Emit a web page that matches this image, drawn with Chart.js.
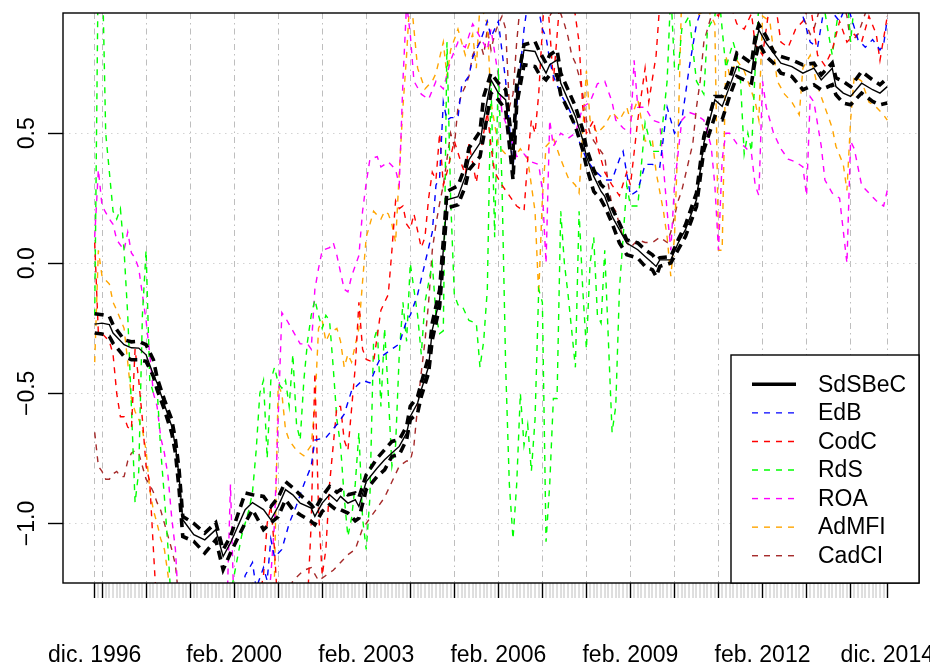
<!DOCTYPE html>
<html>
<head>
<meta charset="utf-8">
<script src="https://cdn.jsdelivr.net/npm/chart.js@4.4.0/dist/chart.umd.min.js"></script>
<style>
  html, body { margin: 0; padding: 0; background: #fff; }
  canvas { display: block; }
</style>
</head>
<body>
<canvas id="chart" width="930" height="666"></canvas>
<script>
'use strict';

const FONT = '"Liberation Sans", Arial, Helvetica, sans-serif';

// x is a month index: 0 = dic. 1996, 216 = dic. 2014
const xTickMonths = [0, 38, 74, 110, 146, 182, 216];
const xTickLabels = ['dic. 1996', 'feb. 2000', 'feb. 2003', 'feb. 2006', 'feb. 2009', 'feb. 2012', 'dic. 2014'];
const yTickValues = [-1, -0.5, 0, 0.5];
const yTickLabels = ['\u22121.0', '\u22120.5', '0.0', '0.5'];

// SdSBeC with its upper and lower bands
const sdsbecMonths = [0, 2, 4, 5, 8, 10, 12, 14, 16, 17, 19, 21, 22, 23, 24, 27, 30, 33, 35, 37, 41, 43, 46, 48, 50, 52, 54, 56, 59, 60, 62, 64, 66, 67, 69, 71, 72, 74, 77, 79, 81, 83, 85, 86, 88, 89, 91, 92, 94, 96, 99, 101, 102, 105, 106, 108, 110, 112, 114, 115, 117, 120, 121, 123, 124, 126, 127, 129, 131, 133, 134, 136, 138, 139, 141, 143, 145, 148, 150, 152, 153, 154, 157, 159, 161, 164, 166, 169, 171, 173, 175, 177, 179, 180, 181, 183, 185, 187, 190, 193, 196, 198, 201, 202, 204, 206, 209, 212, 214, 216];
const sdsbecMid = [-0.234, -0.23, -0.236, -0.268, -0.313, -0.325, -0.326, -0.352, -0.429, -0.46, -0.544, -0.627, -0.704, -0.819, -0.986, -1.043, -1.063, -1.024, -1.127, -1.075, -0.947, -0.92, -0.947, -0.986, -0.935, -0.87, -0.89, -0.922, -0.941, -0.973, -0.922, -0.89, -0.915, -0.896, -0.922, -0.909, -0.935, -0.839, -0.787, -0.755, -0.729, -0.704, -0.653, -0.589, -0.537, -0.486, -0.397, -0.256, -0.14, 0.244, 0.256, 0.334, 0.398, 0.462, 0.552, 0.705, 0.654, 0.628, 0.359, 0.654, 0.82, 0.814, 0.782, 0.731, 0.763, 0.782, 0.693, 0.628, 0.564, 0.475, 0.41, 0.334, 0.276, 0.257, 0.18, 0.129, 0.078, 0.052, 0.026, 0.001, -0.012, 0.013, 0.013, 0.078, 0.129, 0.244, 0.462, 0.628, 0.603, 0.679, 0.756, 0.744, 0.731, 0.833, 0.897, 0.846, 0.808, 0.769, 0.756, 0.731, 0.75, 0.705, 0.75, 0.679, 0.654, 0.641, 0.692, 0.667, 0.654, 0.679];
const sdsbecUpper = [-0.194, -0.198, -0.204, -0.236, -0.294, -0.302, -0.3, -0.313, -0.371, -0.44, -0.525, -0.601, -0.678, -0.794, -0.973, -1.0, -1.037, -0.997, -1.101, -1.05, -0.883, -0.89, -0.896, -0.935, -0.9, -0.839, -0.863, -0.89, -0.928, -0.947, -0.896, -0.858, -0.88, -0.87, -0.89, -0.883, -0.9, -0.813, -0.749, -0.717, -0.685, -0.678, -0.627, -0.55, -0.512, -0.46, -0.358, -0.229, -0.102, 0.276, 0.298, 0.372, 0.443, 0.507, 0.641, 0.731, 0.693, 0.667, 0.436, 0.686, 0.84, 0.852, 0.82, 0.769, 0.801, 0.82, 0.731, 0.667, 0.603, 0.513, 0.443, 0.359, 0.302, 0.289, 0.212, 0.154, 0.09, 0.078, 0.052, 0.033, 0.013, 0.021, 0.026, 0.09, 0.148, 0.27, 0.487, 0.641, 0.641, 0.705, 0.808, 0.789, 0.769, 0.872, 0.917, 0.872, 0.814, 0.795, 0.782, 0.763, 0.769, 0.724, 0.77, 0.713, 0.699, 0.679, 0.737, 0.705, 0.686, 0.712];
const sdsbecLower = [-0.268, -0.272, -0.281, -0.307, -0.358, -0.371, -0.371, -0.377, -0.435, -0.486, -0.563, -0.653, -0.729, -0.87, -1.05, -1.069, -1.114, -1.063, -1.178, -1.114, -0.998, -0.947, -1.024, -0.998, -0.974, -0.909, -0.947, -0.967, -0.992, -1.005, -0.954, -0.928, -0.95, -0.947, -0.96, -0.99, -0.98, -0.87, -0.819, -0.794, -0.742, -0.736, -0.678, -0.601, -0.576, -0.512, -0.421, -0.294, -0.166, 0.212, 0.225, 0.295, 0.359, 0.41, 0.487, 0.654, 0.628, 0.59, 0.321, 0.609, 0.763, 0.756, 0.731, 0.705, 0.724, 0.724, 0.648, 0.59, 0.526, 0.436, 0.372, 0.276, 0.244, 0.218, 0.154, 0.078, 0.033, 0.02, -0.012, -0.025, -0.051, -0.012, 0.001, 0.052, 0.103, 0.218, 0.436, 0.564, 0.552, 0.641, 0.718, 0.705, 0.693, 0.782, 0.846, 0.795, 0.769, 0.731, 0.718, 0.667, 0.686, 0.667, 0.686, 0.648, 0.616, 0.609, 0.654, 0.622, 0.609, 0.616];

const edbMonths = [0, 38, 41, 43, 44, 46, 47, 48, 49, 51, 53, 55, 57, 59, 60, 63, 66, 68, 70, 73, 75, 77, 78, 81, 83, 85, 86, 88, 90, 92, 93, 94, 95, 96, 97, 99, 100, 102, 103, 105, 107, 108, 110, 112, 114, 115, 117, 118, 120, 122, 123, 124, 125, 127, 129, 130, 132, 134, 136, 139, 141, 143, 144, 146, 148, 150, 152, 154, 156, 158, 160, 162, 164, 166, 168, 175, 185, 192, 195, 197, 199, 203, 205, 208, 210, 212, 214, 215, 216];
const edbValues = [-1.5, -1.45, -1.2, -1.15, -1.25, -1.17, -1.22, -1.06, -1.13, -1.1, -1.0, -0.93, -0.85, -0.78, -0.68, -0.67, -0.62, -0.58, -0.49, -0.45, -0.46, -0.39, -0.36, -0.33, -0.31, -0.22, -0.2, -0.12, 0.0, 0.12, 0.3, 0.33, 0.62, 0.55, 0.56, 0.56, 0.68, 0.72, 0.79, 0.85, 0.93, 0.87, 0.93, 0.7, 0.36, 0.6, 0.9, 1.0, 1.05, 0.9, 0.87, 0.78, 0.72, 0.65, 0.6, 0.57, 0.47, 0.4, 0.36, 0.32, 0.32, 0.4, 0.43, 0.26, 0.28, 0.38, 0.38, 0.37, 0.6, 0.5, 0.55, 0.75, 0.92, 1.0, 1.05, 1.1, 1.05, 1.0, 0.85, 0.83, 1.0, 0.93, 1.0, 0.86, 0.83, 0.86, 0.82, 0.84, 0.94];

const codcMonths = [0, 1, 2, 4, 5, 6, 7, 8, 9, 10, 11, 12, 13, 14, 15, 16, 17, 40, 43, 44, 46, 47, 48, 49, 50, 58, 59, 60, 61, 62, 63, 64, 66, 67, 68, 69, 70, 71, 72, 73, 74, 76, 78, 80, 81, 82, 83, 84, 85, 86, 87, 89, 90, 91, 92, 93, 94, 95, 96, 98, 100, 101, 102, 104, 106, 107, 108, 109, 111, 113, 115, 117, 118, 119, 120, 121, 122, 123, 124, 125, 127, 128, 130, 132, 133, 134, 136, 137, 139, 141, 143, 145, 146, 148, 150, 151, 153, 154, 156, 160, 165, 170, 172, 175, 177, 179, 180, 182, 184, 186, 187, 189, 191, 193, 195, 197, 199, 201, 203, 205, 207, 209, 211, 213, 214, 216];
const codcValues = [0.08, -0.27, -0.27, -0.3, -0.35, -0.5, -0.59, -0.59, -0.63, -0.64, -0.33, -0.45, -0.6, -0.78, -0.84, -1.1, -1.35, -1.4, -1.22, -1.35, -1.2, -1.0, -0.93, -1.1, -1.35, -1.3, -1.0, -0.42, -0.95, -1.2, -1.1, -0.85, -0.55, -0.55, -0.68, -0.72, -0.56, -0.4, -0.15, -0.33, -0.37, -0.38, -0.18, -0.12, 0.05, 0.24, 0.21, 0.22, 0.15, 0.13, 0.19, 0.06, 0.1, 0.25, 0.35, 0.32, 0.5, 0.3, 0.35, 0.47, 0.38, 0.34, 0.46, 0.31, 0.5, 0.58, 0.45, 0.35, 0.3, 0.26, 0.22, 0.2, 0.4, 0.55, 0.5, 0.65, 0.9, 1.1, 0.9, 0.7, 1.05, 1.1, 1.05, 0.85, 0.6, 0.5, 0.55, 0.45, 0.35, 0.3, 0.26, 0.35, 0.3, 0.55, 0.75, 0.62, 0.8, 1.0, 1.1, 1.05, 1.02, 0.95, 1.05, 0.92, 0.9, 0.96, 0.84, 0.8, 1.0, 0.95, 0.85, 0.83, 0.9, 0.93, 1.0, 0.8, 0.76, 0.82, 0.93, 0.85, 0.88, 0.85, 0.95, 0.88, 0.78, 0.95];

const rdsMonths = [0, 1, 2, 3, 4, 5, 6, 7, 8, 9, 10, 11, 12, 13, 14, 15, 16, 17, 18, 19, 20, 21, 36, 38, 40, 42, 43, 44, 45, 46, 47, 48, 49, 50, 51, 52, 53, 54, 55, 56, 57, 58, 59, 60, 61, 62, 63, 64, 65, 66, 67, 68, 69, 70, 71, 72, 73, 74, 75, 76, 77, 78, 79, 80, 81, 82, 83, 84, 85, 86, 87, 88, 89, 90, 92, 93, 94, 95, 96, 97, 98, 99, 100, 102, 104, 105, 106, 107, 108, 109, 110, 111, 112, 113, 114, 115, 116, 117, 118, 119, 120, 121, 122, 123, 124, 125, 126, 127, 128, 129, 130, 131, 132, 133, 134, 135, 136, 137, 138, 139, 140, 141, 142, 143, 144, 145, 146, 148, 150, 152, 154, 156, 157, 158, 159, 160, 162, 164, 166, 167, 169, 170, 172, 174, 175, 176, 177, 178, 179, 180, 181, 183, 198, 200, 201, 203, 205, 206, 207, 216];
const rdsValues = [-0.2, 1.2, 1.2, 0.5, 0.35, 0.2, 0.17, 0.21, 0.05, -0.2, -0.55, -0.92, -0.8, -0.2, 0.05, -0.45, -0.5, -0.48, -0.72, -0.9, -1.1, -1.35, -1.35, -1.2, -1.05, -0.95, -0.88, -0.72, -0.5, -0.45, -0.75, -0.45, -0.4, -0.46, -0.48, -0.45, -0.55, -0.35, -0.62, -0.68, -0.45, -0.3, -0.2, -0.14, -0.2, -0.25, -0.2, -0.22, -0.4, -0.6, -0.7, -0.9, -1.05, -0.98, -0.85, -0.65, -0.98, -1.1, -0.9, -0.3, -0.25, -0.55, -0.25, -0.5, -0.78, -0.7, -0.35, -0.15, -0.3, 0.0, -0.1, -0.2, -0.35, -0.15, 0.0, -0.2, -0.27, -0.26, 0.85, 0.25, -0.12, -0.16, -0.16, -0.22, -0.23, -0.4, -0.3, -0.1, 0.7, 0.1, 0.75, 0.3, -0.4, -0.85, -1.06, -0.85, -0.5, -0.7, -0.62, -0.8, -0.6, -0.1, -0.15, -1.07, -0.85, -0.52, -0.52, 0.2, 0.0, -0.12, -0.26, -0.4, 0.2, -0.1, -0.33, 0.0, 0.1, -0.2, -0.23, 0.05, -0.3, -0.65, -0.55, -0.1, 0.1, 0.3, 0.22, 0.22, 0.54, 0.43, 0.43, 0.7, 1.05, 0.75, 0.74, 0.9, 0.95, 0.7, 0.65, 0.9, 0.95, 1.05, 0.75, 0.85, 0.8, 0.7, 0.42, 0.5, 0.43, 0.75, 1.0, 1.1, 1.05, 0.88, 0.8, 1.0, 1.05, 0.85, 1.0, 1.05];

const roaMonths = [0, 1, 2, 4, 5, 6, 8, 9, 10, 11, 12, 13, 14, 15, 16, 17, 18, 19, 20, 21, 22, 23, 36, 37, 38, 47, 48, 49, 51, 52, 54, 56, 58, 59, 60, 61, 62, 64, 65, 66, 68, 69, 70, 72, 73, 74, 75, 77, 78, 80, 82, 83, 84, 85, 86, 87, 89, 91, 93, 95, 97, 99, 101, 103, 105, 107, 108, 110, 111, 113, 115, 117, 119, 121, 122, 123, 124, 125, 127, 129, 131, 133, 135, 137, 139, 141, 142, 144, 146, 147, 148, 150, 152, 154, 156, 157, 158, 160, 162, 164, 166, 168, 169, 170, 171, 172, 173, 175, 177, 179, 180, 181, 182, 183, 185, 187, 189, 191, 193, 194, 195, 196, 198, 199, 201, 203, 205, 206, 207, 209, 211, 213, 215, 216];
const roaValues = [0.1, 0.36, 0.22, 0.17, 0.15, 0.09, 0.05, 0.12, 0.04, 0.02, -0.02, -0.12, -0.22, -0.35, -0.5, -0.55, -0.67, -0.73, -0.82, -0.98, -1.1, -1.35, -1.35, -0.85, -1.35, -1.35, -1.2, -1.0, -0.19, -0.21, -0.26, -0.31, -0.31, -0.33, -0.1, -0.02, 0.05, 0.06, 0.08, 0.03, -0.1, -0.11, -0.05, 0.03, 0.2, 0.31, 0.4, 0.41, 0.37, 0.39, 0.36, 0.3, 0.7, 1.0, 0.88, 0.7, 0.65, 0.63, 0.7, 0.67, 0.78, 0.85, 0.83, 0.92, 0.87, 0.82, 0.9, 0.72, 0.58, 0.5, 0.41, 0.42, 0.39, 0.38, 0.28, 0.0, 0.55, 0.45, 0.5, 0.48, 0.5, 0.6, 0.62, 0.69, 0.7, 0.62, 0.55, 0.52, 0.5, 0.78, 0.6, 0.6, 0.55, 0.54, 0.2, 0.05, 0.3, 0.55, 0.58, 0.57, 0.55, 0.45, 0.3, 0.05, 0.4, 0.5, 0.5, 0.46, 0.45, 0.42, 0.3, 0.26, 0.7, 0.6, 0.5, 0.44, 0.4, 0.39, 0.37, 0.26, 0.64, 0.62, 0.45, 0.32, 0.27, 0.25, 0.0, 0.47, 0.44, 0.3, 0.27, 0.24, 0.22, 0.28];

const admfiMonths = [0, 1, 2, 4, 5, 6, 8, 9, 10, 11, 12, 13, 14, 15, 16, 17, 18, 19, 20, 21, 48, 49, 50, 51, 52, 53, 55, 57, 59, 60, 61, 62, 63, 64, 66, 67, 68, 69, 70, 72, 73, 74, 76, 78, 79, 80, 81, 82, 83, 84, 85, 86, 87, 88, 90, 92, 93, 95, 96, 97, 99, 101, 103, 104, 105, 107, 108, 110, 112, 114, 116, 118, 120, 121, 122, 123, 125, 127, 129, 131, 132, 134, 135, 137, 139, 141, 143, 145, 146, 148, 150, 152, 153, 155, 156, 157, 158, 159, 160, 162, 164, 167, 169, 170, 171, 172, 173, 175, 177, 179, 180, 181, 182, 184, 186, 188, 190, 192, 193, 195, 197, 199, 201, 202, 204, 205, 206, 207, 209, 211, 213, 215, 216];
const admfiValues = [-0.38, 0.05, -0.05, -0.08, -0.15, -0.18, -0.25, -0.38, -0.52, -0.57, -0.6, -0.64, -0.72, -0.87, -0.95, -1.0, -1.06, -1.1, -1.2, -1.35, -1.35, -1.2, -0.47, -0.5, -0.64, -0.68, -0.72, -0.74, -0.7, -0.55, -0.25, -0.22, -0.3, -0.27, -0.25, -0.3, -0.4, -0.35, -0.38, -0.25, -0.07, 0.1, 0.2, 0.17, 0.2, 0.19, 0.15, 0.08, 0.35, 0.6, 0.8, 1.05, 0.9, 0.75, 0.67, 0.7, 0.73, 0.85, 0.72, 0.82, 0.9, 0.8, 0.88, 0.75, 1.0, 0.92, 0.62, 0.45, 0.42, 0.4, 0.44, 0.4, 0.2, -0.12, 0.25, 0.45, 0.48, 0.4, 0.33, 0.3, 0.27, 0.74, 0.55, 0.5, 0.53, 0.58, 0.55, 0.6, 0.55, 0.63, 0.47, 0.47, 0.35, 0.2, 0.1, -0.05, 0.1, 0.5, 1.05, 1.1, 0.95, 0.98, 0.92, 0.05, 0.05, 0.8, 0.72, 0.78, 0.74, 0.66, 0.62, 0.55, 0.95, 0.93, 0.7, 0.65, 0.62, 0.57, 0.75, 0.8, 0.68, 0.6, 0.52, 0.45, 0.38, 0.28, 0.55, 0.72, 0.7, 0.62, 0.6, 0.57, 0.55];

const cadciMonths = [0, 1, 2, 3, 4, 5, 6, 7, 8, 9, 10, 11, 12, 13, 14, 15, 16, 17, 18, 19, 20, 21, 22, 23, 52, 54, 57, 59, 61, 63, 65, 67, 69, 71, 73, 75, 77, 79, 81, 83, 85, 86, 87, 88, 89, 90, 91, 92, 93, 94, 95, 96, 97, 98, 99, 100, 101, 102, 103, 104, 105, 106, 107, 108, 109, 110, 111, 112, 113, 114, 115, 116, 118, 120, 122, 124, 126, 128, 129, 130, 131, 132, 133, 134, 135, 136, 137, 139, 140, 141, 142, 143, 144, 145, 146, 148, 150, 152, 154, 156, 157, 158, 159, 160, 161, 162, 163, 164, 165, 166, 167, 169, 170, 180, 190, 193, 195, 196, 198, 203, 205, 206, 208, 209, 211, 214, 216];
const cadciValues = [-0.65, -0.78, -0.8, -0.83, -0.83, -0.81, -0.8, -0.82, -0.82, -0.76, -0.73, -0.72, -0.73, -0.78, -0.83, -0.85, -0.88, -0.92, -0.95, -1.0, -1.05, -1.1, -1.16, -1.3, -1.3, -1.22, -1.18, -1.17, -1.22, -1.2, -1.18, -1.15, -1.12, -1.1, -1.02, -0.98, -0.94, -0.9, -0.84, -0.78, -0.76, -0.76, -0.7, -0.55, -0.42, -0.3, -0.15, 0.05, 0.15, 0.23, 0.3, 0.4, 0.5, 0.45, 0.6, 0.65, 0.68, 0.72, 0.8, 0.83, 0.85, 0.8, 0.9, 0.82, 0.88, 0.92, 0.95, 0.9, 0.6, 0.65, 0.85, 1.0, 1.05, 1.02, 1.0, 0.95, 1.0, 0.92, 0.87, 0.8, 0.77, 0.72, 0.65, 0.55, 0.5, 0.47, 0.45, 0.41, 0.3, 0.22, 0.2, 0.15, 0.1, 0.08, 0.06, 0.09, 0.08, 0.08, 0.1, 0.08, 0.12, 0.18, 0.24, 0.28, 0.34, 0.4, 0.46, 0.6, 0.7, 0.85, 0.9, 1.0, 1.05, 1.1, 1.05, 0.95, 0.88, 0.9, 1.0, 1.05, 0.95, 0.85, 0.88, 0.92, 1.0, 0.97, 0.95];

const series = [
  { label: 'EdB', color: '#0000FF', months: edbMonths, values: edbValues },
  { label: 'CodC', color: '#FF0000', months: codcMonths, values: codcValues },
  { label: 'RdS', color: '#00FF00', months: rdsMonths, values: rdsValues },
  { label: 'ROA', color: '#FF00FF', months: roaMonths, values: roaValues },
  { label: 'AdMFI', color: '#FFA500', months: admfiMonths, values: admfiValues },
  { label: 'CadCI', color: '#A52A2A', months: cadciMonths, values: cadciValues }
];

const thinDash = [6, 6];
const bandDash = [9, 6];

function toPoints(months, values) {
  if (months.length !== values.length) console.warn('length mismatch', months.length, values.length);
  return months.map((m, i) => ({ x: m, y: values[i] }));
}

// yearly ticks fall on February, plus the first and last month
function isMajorMonth(m) {
  return m === 0 || m === 216 || (m >= 2 && (m - 2) % 12 === 0);
}

const allMonths = [];
for (let m = 0; m <= 216; m++) allMonths.push(m);

const datasets = [
  { label: 'SdSBeC', data: toPoints(sdsbecMonths, sdsbecMid), borderColor: '#000000', borderWidth: 1.4 },
  { label: 'upper', data: toPoints(sdsbecMonths, sdsbecUpper), borderColor: '#000000', borderWidth: 3.6, borderDash: bandDash },
  { label: 'lower', data: toPoints(sdsbecMonths, sdsbecLower), borderColor: '#000000', borderWidth: 3.6, borderDash: bandDash }
];
series.forEach(s => {
  datasets.push({
    label: s.label,
    data: toPoints(s.months, s.values),
    borderColor: s.color,
    borderWidth: 1.4,
    borderDash: thinDash
  });
});

const legendItems = [{ label: 'SdSBeC', color: '#000000', width: 3.6, dash: [] }]
  .concat(series.map(s => ({ label: s.label, color: s.color, width: 1.4, dash: thinDash })));

// box around the plot region
const framePlugin = {
  id: 'frame',
  afterDatasetsDraw(chart) {
    const { ctx, chartArea: a } = chart;
    ctx.save();
    ctx.strokeStyle = '#000';
    ctx.lineWidth = 1.4;
    ctx.strokeRect(a.left, a.top, a.right - a.left, a.bottom - a.top);
    ctx.restore();
  }
};

// legend box in the lower right corner of the plot
const boxLegendPlugin = {
  id: 'boxLegend',
  afterDatasetsDraw(chart) {
    const { ctx, chartArea: a } = chart;
    const w = 188;
    const h = 228;
    const left = a.right - w;
    const top = a.bottom - h;
    ctx.save();
    ctx.fillStyle = '#fff';
    ctx.fillRect(left, top, w, h);
    ctx.strokeStyle = '#000';
    ctx.lineWidth = 1.4;
    ctx.strokeRect(left, top, w, h);
    ctx.font = '23px ' + FONT;
    ctx.textBaseline = 'middle';
    ctx.textAlign = 'left';
    legendItems.forEach((item, i) => {
      const y = top + 29.3 + i * 28.57;
      ctx.beginPath();
      ctx.setLineDash(item.dash);
      ctx.strokeStyle = item.color;
      ctx.lineWidth = item.width;
      ctx.moveTo(left + 21, y);
      ctx.lineTo(left + 65, y);
      ctx.stroke();
      ctx.setLineDash([]);
      ctx.fillStyle = '#000';
      ctx.fillText(item.label, left + 87, y + 1);
    });
    ctx.restore();
  }
};

// vertical y tick labels
const yLabelPlugin = {
  id: 'yLabels',
  afterDraw(chart) {
    const { ctx } = chart;
    const y = chart.scales.y;
    ctx.save();
    ctx.font = '23px ' + FONT;
    ctx.fillStyle = '#000';
    ctx.textAlign = 'center';
    ctx.textBaseline = 'alphabetic';
    yTickValues.forEach((v, i) => {
      ctx.save();
      ctx.translate(34, y.getPixelForValue(v));
      ctx.rotate(-Math.PI / 2);
      ctx.fillText(yTickLabels[i], 0, 0);
      ctx.restore();
    });
    ctx.restore();
  }
};

function tickIsMajor(ctx) {
  return !!(ctx && ctx.tick && isMajorMonth(ctx.tick.value));
}

new Chart(document.getElementById('chart'), {
  type: 'line',
  data: { datasets: datasets },
  options: {
    responsive: false,
    animation: false,
    devicePixelRatio: 1,
    layout: { padding: { top: 13, right: 11, left: 0, bottom: 0 } },
    plugins: { legend: { display: false }, tooltip: { enabled: false } },
    elements: {
      point: { radius: 0 },
      line: { tension: 0, fill: false, borderCapStyle: 'butt' }
    },
    datasets: { line: { clip: 0 } },
    scales: {
      x: {
        type: 'linear',
        min: -8.64,
        max: 224.64,
        afterBuildTicks: (scale) => { scale.ticks = allMonths.map(v => ({ value: v })); },
        afterFit: (scale) => { scale.height = 83; scale.paddingLeft = 0; scale.paddingRight = 0; },
        border: { display: false, dash: [6, 4, 1.5, 4] },
        grid: {
          color: (ctx) => tickIsMajor(ctx) ? '#BEBEBE' : 'rgba(0,0,0,0)',
          lineWidth: (ctx) => tickIsMajor(ctx) ? 1 : 0,
          tickColor: (ctx) => tickIsMajor(ctx) ? '#000000' : '#BEBEBE',
          tickWidth: (ctx) => tickIsMajor(ctx) ? 1.4 : 1,
          tickLength: 15,
          drawTicks: true
        },
        ticks: {
          autoSkip: false,
          maxRotation: 0,
          minRotation: 0,
          padding: 44,
          color: '#000',
          font: { family: FONT, size: 23 },
          callback: (value) => {
            const i = xTickMonths.indexOf(value);
            return i >= 0 ? xTickLabels[i] : '';
          }
        }
      },
      y: {
        type: 'linear',
        min: -1.229,
        max: 0.962,
        afterBuildTicks: (scale) => { scale.ticks = yTickValues.map(v => ({ value: v })); },
        afterFit: (scale) => { scale.width = 63; },
        border: { display: false, dash: [1.5, 4.5] },
        grid: {
          color: '#D3D3D3',
          lineWidth: 1,
          tickColor: '#000000',
          tickWidth: 1.4,
          tickLength: 15,
          drawTicks: true
        },
        ticks: { display: false }
      }
    }
  },
  plugins: [framePlugin, boxLegendPlugin, yLabelPlugin]
});
</script>
</body>
</html>
